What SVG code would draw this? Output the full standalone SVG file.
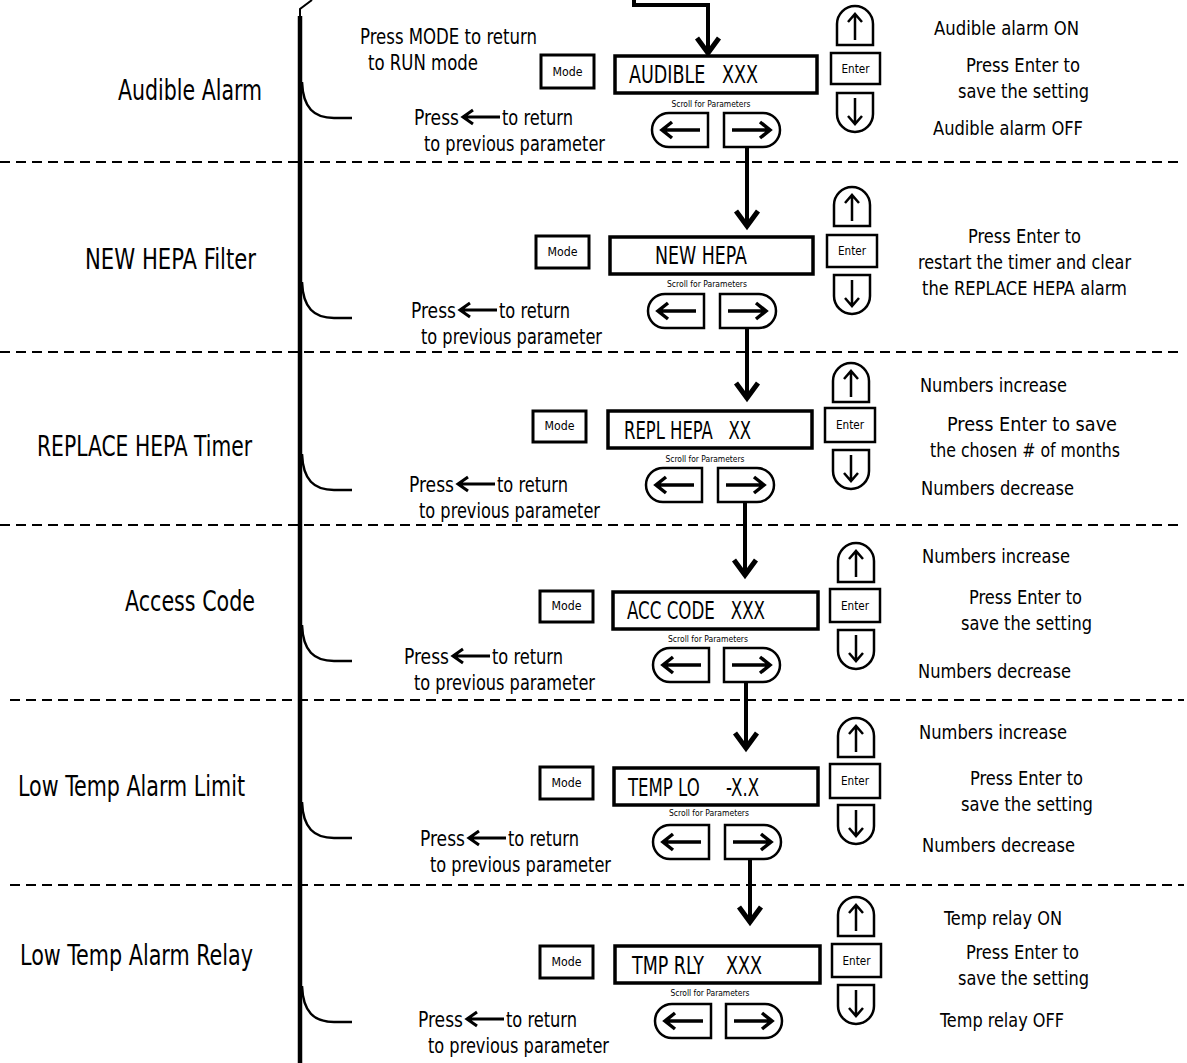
<svg xmlns="http://www.w3.org/2000/svg" xmlns:xlink="http://www.w3.org/1999/xlink" width="1187" height="1063" viewBox="0 0 1187 1063">
<style>
text{font-family:"Liberation Sans Narrow","DejaVu Sans Condensed","Liberation Sans",sans-serif;fill:#000}
.lbl{font-size:28px}
.body{font-size:21px}
.rt{font-size:20px}
.disp{font-size:24px;white-space:pre}
.btn{font-size:12px;text-anchor:middle}
.scr{font-size:9px;text-anchor:middle}
.box{fill:#fff;stroke:#000;stroke-width:2.5}
.dbox{fill:#fff;stroke:#000;stroke-width:3.5}
.ar{fill:none;stroke:#000;stroke-width:3.5;stroke-linecap:butt}
.arT{fill:none;stroke:#000;stroke-width:2.5}
.dash{stroke:#000;stroke-width:2;stroke-dasharray:10 6;fill:none}
.flow{fill:none;stroke:#000;stroke-width:4}
.curve{fill:none;stroke:#000;stroke-width:2.5}
</style>
<defs>
<marker id="ah" markerUnits="userSpaceOnUse" viewBox="-20 -15 25 30" markerWidth="25" markerHeight="30" refX="0" refY="0" orient="auto" overflow="visible">
<path d="M -15 -11 L 0 0 L -15 11" fill="none" stroke="#000" stroke-width="5"/>
</marker>
<g id="leftBtn"><path class="box" d="M 56 0 H 17 A 17 17 0 0 0 17 34 H 56 Z"/><path class="ar" d="M 48 17 H 10 M 20 9 L 10 17 L 20 25"/></g>
<g id="rightBtn"><path class="box" d="M 0 0 H 39 A 17 17 0 0 1 39 34 H 0 Z"/><path class="ar" d="M 8 17 H 46 M 36 9 L 46 17 L 36 25"/></g>
<g id="upBtn"><path class="box" d="M 0 39 V 18 A 18 18 0 0 1 36 18 V 39 Z"/><path class="arT" d="M 18 34 V 8 M 11 16 L 18 8 L 25 16"/></g>
<g id="downBtn"><path class="box" d="M 0 0 V 21 A 18 18 0 0 0 36 21 V 0 Z"/><path class="arT" d="M 18 5 V 31 M 11 23 L 18 31 L 25 23"/></g>
<path id="pressArrow" class="ar" d="M 0 0 H 37 M 10 -7 L 0 0 L 10 7" style="stroke-width:3"/>
</defs>
<rect width="1187" height="1063" fill="#fff"/>

<g id="separators">
<line class="dash" x1="0" y1="162" x2="1184" y2="162"/>
<line class="dash" x1="0" y1="352" x2="1184" y2="352"/>
<line class="dash" x1="0" y1="525" x2="1184" y2="525"/>
<line class="dash" x1="10" y1="700" x2="1184" y2="700"/>
<line class="dash" x1="10" y1="885" x2="1184" y2="885"/>
</g>

<g id="bracket">
<path d="M 300 17 V 9 L 312 0" fill="none" stroke="#000" stroke-width="2"/>
<line x1="300" y1="16" x2="300" y2="1063" stroke="#000" stroke-width="4.5"/>
<path class="curve" d="M 302 82 C 303 108 314 118 334 118 L 352 118"/>
<path class="curve" d="M 302 282 C 303 308 314 318 334 318 L 352 318"/>
<path class="curve" d="M 302 454 C 303 480 314 490 334 490 L 352 490"/>
<path class="curve" d="M 302 625 C 303 651 314 661 334 661 L 352 661"/>
<path class="curve" d="M 302 802 C 303 828 314 838 334 838 L 352 838"/>
<path class="curve" d="M 302 986 C 303 1012 314 1022 334 1022 L 352 1022"/>
</g>

<g id="connectors">
<path class="flow" d="M 634 0 V 5 H 708 V 53" marker-end="url(#ah)"/>
<path class="flow" d="M 747 147 V 226" marker-end="url(#ah)"/>
<path class="flow" d="M 747 328 V 398" marker-end="url(#ah)"/>
<path class="flow" d="M 745 503 V 575" marker-end="url(#ah)"/>
<path class="flow" d="M 746 683 V 748" marker-end="url(#ah)"/>
<path class="flow" d="M 750 860 V 922" marker-end="url(#ah)"/>
</g>

<!-- Section 1 -->
<g id="s1-label"><text class="lbl" x="118" y="100" textLength="144" lengthAdjust="spacingAndGlyphs">Audible Alarm</text></g>
<g id="s1-modenote"><text class="body" x="360" y="44" textLength="177" lengthAdjust="spacingAndGlyphs">Press MODE to return</text><text class="body" x="368" y="70" textLength="110" lengthAdjust="spacingAndGlyphs">to RUN mode</text></g>
<g id="s1-prevnote"><text class="body" x="414" y="125" textLength="45" lengthAdjust="spacingAndGlyphs">Press</text><use xlink:href="#pressArrow" x="463" y="117"/><text class="body" x="502" y="125" textLength="71" lengthAdjust="spacingAndGlyphs">to return</text><text class="body" x="424" y="151" textLength="181" lengthAdjust="spacingAndGlyphs">to previous parameter</text></g>
<g id="s1-mode"><rect class="box" x="541" y="55" width="53" height="33" style="stroke-width:3"/><text class="btn" x="567.5" y="76" textLength="30" lengthAdjust="spacingAndGlyphs">Mode</text></g>
<g id="s1-display"><rect class="dbox" x="615" y="56" width="202" height="37"/><text class="disp" x="629" y="83" textLength="129" lengthAdjust="spacingAndGlyphs">AUDIBLE   XXX</text></g>
<g id="s1-scroll"><text class="scr" x="711" y="107" textLength="79" lengthAdjust="spacingAndGlyphs">Scroll for Parameters</text><use xlink:href="#leftBtn" x="652" y="113"/><use xlink:href="#rightBtn" x="724" y="113"/></g>
<g id="s1-keys"><use xlink:href="#upBtn" x="837" y="6"/><rect class="box" x="831" y="53" width="49" height="31"/><text class="btn" x="855.5" y="73" textLength="28" lengthAdjust="spacingAndGlyphs">Enter</text><use xlink:href="#downBtn" x="837" y="93"/></g>
<g id="s1-notes"><text class="rt" x="934" y="35" textLength="145" lengthAdjust="spacingAndGlyphs">Audible alarm ON</text><text class="rt" x="966" y="72" textLength="114" lengthAdjust="spacingAndGlyphs">Press Enter to</text><text class="rt" x="958" y="98" textLength="131" lengthAdjust="spacingAndGlyphs">save the setting</text><text class="rt" x="933" y="135" textLength="150" lengthAdjust="spacingAndGlyphs">Audible alarm OFF</text></g>

<!-- Section 2 -->
<g id="s2-label"><text class="lbl" x="85" y="269" textLength="171" lengthAdjust="spacingAndGlyphs">NEW HEPA Filter</text></g>
<g id="s2-prevnote"><text class="body" x="411" y="318" textLength="45" lengthAdjust="spacingAndGlyphs">Press</text><use xlink:href="#pressArrow" x="460" y="310"/><text class="body" x="499" y="318" textLength="71" lengthAdjust="spacingAndGlyphs">to return</text><text class="body" x="421" y="344" textLength="181" lengthAdjust="spacingAndGlyphs">to previous parameter</text></g>
<g id="s2-mode"><rect class="box" x="536" y="236" width="53" height="32" style="stroke-width:3"/><text class="btn" x="562.5" y="256" textLength="30" lengthAdjust="spacingAndGlyphs">Mode</text></g>
<g id="s2-display"><rect class="dbox" x="610" y="237" width="203" height="37"/><text class="disp" x="655" y="264" textLength="92" lengthAdjust="spacingAndGlyphs">NEW HEPA</text></g>
<g id="s2-scroll"><text class="scr" x="707" y="287" textLength="80" lengthAdjust="spacingAndGlyphs">Scroll for Parameters</text><use xlink:href="#leftBtn" x="648" y="294"/><use xlink:href="#rightBtn" x="720" y="294"/></g>
<g id="s2-keys"><use xlink:href="#upBtn" x="834" y="187"/><rect class="box" x="827" y="235" width="50" height="32"/><text class="btn" x="852" y="255" textLength="28" lengthAdjust="spacingAndGlyphs">Enter</text><use xlink:href="#downBtn" x="834" y="275"/></g>
<g id="s2-notes"><text class="rt" x="968" y="243" textLength="113" lengthAdjust="spacingAndGlyphs">Press Enter to</text><text class="rt" x="918" y="269" textLength="213" lengthAdjust="spacingAndGlyphs">restart the timer and clear</text><text class="rt" x="922" y="295" textLength="205" lengthAdjust="spacingAndGlyphs">the REPLACE HEPA alarm</text></g>

<!-- Section 3 -->
<g id="s3-label"><text class="lbl" x="37" y="456" textLength="215" lengthAdjust="spacingAndGlyphs">REPLACE HEPA Timer</text></g>
<g id="s3-prevnote"><text class="body" x="409" y="492" textLength="45" lengthAdjust="spacingAndGlyphs">Press</text><use xlink:href="#pressArrow" x="458" y="484"/><text class="body" x="497" y="492" textLength="71" lengthAdjust="spacingAndGlyphs">to return</text><text class="body" x="419" y="518" textLength="181" lengthAdjust="spacingAndGlyphs">to previous parameter</text></g>
<g id="s3-mode"><rect class="box" x="533" y="411" width="53" height="31" style="stroke-width:3"/><text class="btn" x="559.5" y="430" textLength="30" lengthAdjust="spacingAndGlyphs">Mode</text></g>
<g id="s3-display"><rect class="dbox" x="608" y="411" width="204" height="37"/><text class="disp" x="624" y="439" textLength="127" lengthAdjust="spacingAndGlyphs">REPL HEPA   XX</text></g>
<g id="s3-scroll"><text class="scr" x="705" y="462" textLength="79" lengthAdjust="spacingAndGlyphs">Scroll for Parameters</text><use xlink:href="#leftBtn" x="646" y="468"/><use xlink:href="#rightBtn" x="718" y="468"/></g>
<g id="s3-keys"><use xlink:href="#upBtn" x="833" y="363"/><rect class="box" x="825" y="408" width="50" height="34"/><text class="btn" x="850" y="429" textLength="28" lengthAdjust="spacingAndGlyphs">Enter</text><use xlink:href="#downBtn" x="833" y="450"/></g>
<g id="s3-notes"><text class="rt" x="920" y="392" textLength="147" lengthAdjust="spacingAndGlyphs">Numbers increase</text><text class="rt" x="947" y="431" textLength="170" lengthAdjust="spacingAndGlyphs">Press Enter to save</text><text class="rt" x="930" y="457" textLength="190" lengthAdjust="spacingAndGlyphs">the chosen # of months</text><text class="rt" x="921" y="495" textLength="153" lengthAdjust="spacingAndGlyphs">Numbers decrease</text></g>

<!-- Section 4 -->
<g id="s4-label"><text class="lbl" x="125" y="611" textLength="130" lengthAdjust="spacingAndGlyphs">Access Code</text></g>
<g id="s4-prevnote"><text class="body" x="404" y="664" textLength="45" lengthAdjust="spacingAndGlyphs">Press</text><use xlink:href="#pressArrow" x="453" y="656"/><text class="body" x="492" y="664" textLength="71" lengthAdjust="spacingAndGlyphs">to return</text><text class="body" x="414" y="690" textLength="181" lengthAdjust="spacingAndGlyphs">to previous parameter</text></g>
<g id="s4-mode"><rect class="box" x="540" y="591" width="53" height="31" style="stroke-width:3"/><text class="btn" x="566.5" y="610" textLength="30" lengthAdjust="spacingAndGlyphs">Mode</text></g>
<g id="s4-display"><rect class="dbox" x="613" y="592" width="205" height="37"/><text class="disp" x="627" y="619" textLength="138" lengthAdjust="spacingAndGlyphs">ACC CODE   XXX</text></g>
<g id="s4-scroll"><text class="scr" x="708" y="642" textLength="80" lengthAdjust="spacingAndGlyphs">Scroll for Parameters</text><use xlink:href="#leftBtn" x="653" y="648"/><use xlink:href="#rightBtn" x="724" y="648"/></g>
<g id="s4-keys"><use xlink:href="#upBtn" x="838" y="543"/><rect class="box" x="830" y="589" width="50" height="33"/><text class="btn" x="855" y="610" textLength="28" lengthAdjust="spacingAndGlyphs">Enter</text><use xlink:href="#downBtn" x="838" y="630"/></g>
<g id="s4-notes"><text class="rt" x="922" y="563" textLength="148" lengthAdjust="spacingAndGlyphs">Numbers increase</text><text class="rt" x="969" y="604" textLength="113" lengthAdjust="spacingAndGlyphs">Press Enter to</text><text class="rt" x="961" y="630" textLength="131" lengthAdjust="spacingAndGlyphs">save the setting</text><text class="rt" x="918" y="678" textLength="153" lengthAdjust="spacingAndGlyphs">Numbers decrease</text></g>

<!-- Section 5 -->
<g id="s5-label"><text class="lbl" x="18" y="796" textLength="227" lengthAdjust="spacingAndGlyphs">Low Temp Alarm Limit</text></g>
<g id="s5-prevnote"><text class="body" x="420" y="846" textLength="45" lengthAdjust="spacingAndGlyphs">Press</text><use xlink:href="#pressArrow" x="469" y="838"/><text class="body" x="508" y="846" textLength="71" lengthAdjust="spacingAndGlyphs">to return</text><text class="body" x="430" y="872" textLength="181" lengthAdjust="spacingAndGlyphs">to previous parameter</text></g>
<g id="s5-mode"><rect class="box" x="540" y="767" width="53" height="32" style="stroke-width:3"/><text class="btn" x="566.5" y="787" textLength="30" lengthAdjust="spacingAndGlyphs">Mode</text></g>
<g id="s5-display"><rect class="dbox" x="614" y="768" width="204" height="37"/><text class="disp" x="628" y="796" textLength="131" lengthAdjust="spacingAndGlyphs">TEMP LO     -X.X</text></g>
<g id="s5-scroll"><text class="scr" x="709" y="816" textLength="80" lengthAdjust="spacingAndGlyphs">Scroll for Parameters</text><use xlink:href="#leftBtn" x="653" y="825"/><use xlink:href="#rightBtn" x="725" y="825"/></g>
<g id="s5-keys"><use xlink:href="#upBtn" x="838" y="718"/><rect class="box" x="830" y="764" width="50" height="34"/><text class="btn" x="855" y="785" textLength="28" lengthAdjust="spacingAndGlyphs">Enter</text><use xlink:href="#downBtn" x="838" y="805"/></g>
<g id="s5-notes"><text class="rt" x="919" y="739" textLength="148" lengthAdjust="spacingAndGlyphs">Numbers increase</text><text class="rt" x="970" y="785" textLength="113" lengthAdjust="spacingAndGlyphs">Press Enter to</text><text class="rt" x="961" y="811" textLength="132" lengthAdjust="spacingAndGlyphs">save the setting</text><text class="rt" x="922" y="852" textLength="153" lengthAdjust="spacingAndGlyphs">Numbers decrease</text></g>

<!-- Section 6 -->
<g id="s6-label"><text class="lbl" x="20" y="965" textLength="233" lengthAdjust="spacingAndGlyphs">Low Temp Alarm Relay</text></g>
<g id="s6-prevnote"><text class="body" x="418" y="1027" textLength="45" lengthAdjust="spacingAndGlyphs">Press</text><use xlink:href="#pressArrow" x="467" y="1019"/><text class="body" x="506" y="1027" textLength="71" lengthAdjust="spacingAndGlyphs">to return</text><text class="body" x="428" y="1053" textLength="181" lengthAdjust="spacingAndGlyphs">to previous parameter</text></g>
<g id="s6-mode"><rect class="box" x="540" y="946" width="53" height="32" style="stroke-width:3"/><text class="btn" x="566.5" y="966" textLength="30" lengthAdjust="spacingAndGlyphs">Mode</text></g>
<g id="s6-display"><rect class="dbox" x="615" y="946" width="205" height="37"/><text class="disp" x="632" y="974" textLength="130" lengthAdjust="spacingAndGlyphs">TMP RLY    XXX</text></g>
<g id="s6-scroll"><text class="scr" x="710" y="996" textLength="79" lengthAdjust="spacingAndGlyphs">Scroll for Parameters</text><use xlink:href="#leftBtn" x="655" y="1004"/><use xlink:href="#rightBtn" x="726" y="1004"/></g>
<g id="s6-keys"><use xlink:href="#upBtn" x="838" y="897"/><rect class="box" x="832" y="944" width="49" height="33"/><text class="btn" x="856.5" y="965" textLength="28" lengthAdjust="spacingAndGlyphs">Enter</text><use xlink:href="#downBtn" x="838" y="985"/></g>
<g id="s6-notes"><text class="rt" x="944" y="925" textLength="118" lengthAdjust="spacingAndGlyphs">Temp relay ON</text><text class="rt" x="966" y="959" textLength="113" lengthAdjust="spacingAndGlyphs">Press Enter to</text><text class="rt" x="958" y="985" textLength="131" lengthAdjust="spacingAndGlyphs">save the setting</text><text class="rt" x="940" y="1027" textLength="124" lengthAdjust="spacingAndGlyphs">Temp relay OFF</text></g>
</svg>
